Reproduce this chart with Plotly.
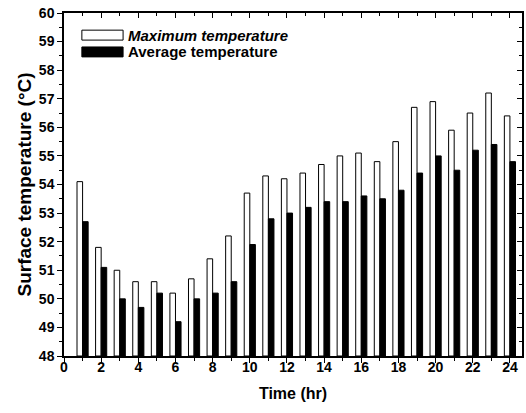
import plotly.graph_objects as go

hours = list(range(1, 25))
max_temp = [54.1, 51.8, 51.0, 50.6, 50.6, 50.2, 50.7, 51.4, 52.2, 53.7, 54.3, 54.2,
            54.4, 54.7, 55.0, 55.1, 54.8, 55.5, 56.7, 56.9, 55.9, 56.5, 57.2, 56.4]
avg_temp = [52.7, 51.1, 50.0, 49.7, 50.2, 49.2, 50.0, 50.2, 50.6, 51.9, 52.8, 53.0,
            53.2, 53.4, 53.4, 53.6, 53.5, 53.8, 54.4, 55.0, 54.5, 55.2, 55.4, 54.8]
x_ticks = list(range(0, 25, 2))
y_ticks = list(range(48, 61))

FONT = "Liberation Sans, Arial, sans-serif"
TICKFONT = dict(family=FONT, size=14, color="black")

fig = go.Figure()
fig.add_trace(go.Bar(x=hours, y=[v - 48 for v in max_temp], base=48, name="Maximum temperature",
                     marker=dict(color="white", line=dict(color="black", width=1)),
                     showlegend=False))
fig.add_trace(go.Bar(x=hours, y=[v - 48 for v in avg_temp], base=48, name="Average temperature",
                     marker=dict(color="black", line=dict(color="black", width=1)),
                     showlegend=False))

axis_common = dict(showline=True, linecolor="black", linewidth=1.5, showgrid=False,
                   zeroline=False, ticks="outside", tickcolor="black", tickwidth=1.2,
                   tickfont=TICKFONT)

fig.update_layout(
    width=526, height=413,
    margin=dict(l=64, r=4, t=13, b=57),
    paper_bgcolor="white", plot_bgcolor="white",
    barmode="group", bargap=0.4, bargroupgap=0,
    font=dict(family=FONT, color="black"),
    xaxis=dict(range=[0, 24.65], tickvals=x_ticks, ticktext=[f"<b>{t}</b>" for t in x_ticks],
               ticklen=5, ticklabelstandoff=-8,
               minor=dict(dtick=1, tick0=0, ticklen=3, ticks="outside", tickcolor="black"),
               title=dict(text="<b>Time (hr)</b>", font=dict(family=FONT, size=16), standoff=14),
               **axis_common),
    yaxis=dict(range=[48, 60], tickvals=y_ticks, ticktext=[f"<b>{t}</b>" for t in y_ticks],
               ticklen=5,
               minor=dict(dtick=0.5, tick0=48, ticklen=3, ticks="outside", tickcolor="black"),
               title=dict(text="<b>Surface temperature (°C)</b>", font=dict(family=FONT, size=19), standoff=2),
               **axis_common),
    xaxis2=dict(overlaying="x", side="top", range=[0, 24.65], tickvals=x_ticks, ticks="inside",
                ticklen=5, showticklabels=False, showline=True, linecolor="black", linewidth=1.5,
                showgrid=False, zeroline=False, tickcolor="black",
                minor=dict(dtick=1, tick0=0, ticklen=3, ticks="inside", tickcolor="black")),
    yaxis2=dict(overlaying="y", side="right", range=[48, 60], tickvals=y_ticks, ticks="inside",
                ticklen=5, showticklabels=False, showline=True, linecolor="black", linewidth=1.5,
                showgrid=False, zeroline=False, tickcolor="black",
                minor=dict(dtick=0.5, tick0=48, ticklen=3, ticks="inside", tickcolor="black")),
)

# invisible trace to activate secondary (mirror) axes
fig.add_trace(go.Scatter(x=[0], y=[48], xaxis="x2", yaxis="y2", mode="markers",
                         marker=dict(opacity=0), showlegend=False, hoverinfo="skip"))

# custom legend
fig.add_shape(type="rect", xref="paper", yref="paper", x0=0.039, x1=0.129, y0=0.921, y1=0.950,
              fillcolor="white", line=dict(color="black", width=1))
fig.add_shape(type="rect", xref="paper", yref="paper", x0=0.039, x1=0.129, y0=0.872, y1=0.901,
              fillcolor="black", line=dict(color="black", width=1))
fig.add_annotation(xref="paper", yref="paper", x=0.138, y=0.9355, xanchor="left", yanchor="middle",
                   text="<b><i>Maximum temperature</i></b>", showarrow=False, borderpad=0,
                   font=dict(family=FONT, size=15, color="black"))
fig.add_annotation(xref="paper", yref="paper", x=0.138, y=0.8865, xanchor="left", yanchor="middle",
                   text="<b>Average temperature</b>", showarrow=False, borderpad=0,
                   font=dict(family=FONT, size=15, color="black"))

fig.write_html("out.html")
